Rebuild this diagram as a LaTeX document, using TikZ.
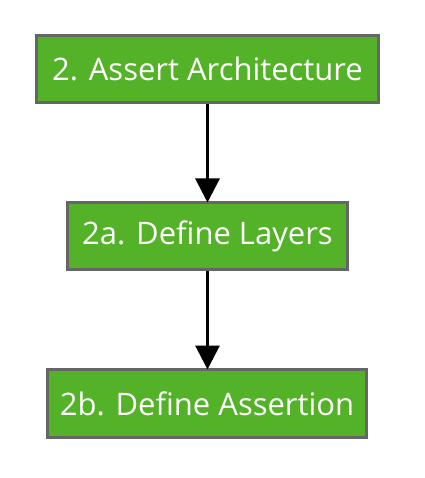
\documentclass[tikz,border=0pt]{standalone}
\usepackage{fontspec}
\setmainfont{Open Sans}
\usetikzlibrary{arrows.meta}
\definecolor{boxgreen}{HTML}{53B227}
\definecolor{boxgray}{HTML}{666666}
\begin{document}
\begin{tikzpicture}[x=1pt,y=-1pt,
  stepbox/.style={draw=boxgray, line width=3pt, fill=boxgreen, text=white,
    inner sep=0pt, font=\fontsize{31}{35}\selectfont},
  conn/.style={line width=3pt, -{Triangle[width=24pt,length=24pt]}, shorten >=-1.5pt}]
\useasboundingbox (0,0) rectangle (424,478);
\node[stepbox, minimum width=342pt, minimum height=67pt] (a) at (207.5,69) {2. Assert Architecture};
\node[stepbox, minimum width=280pt, minimum height=67pt] (b) at (207.5,236) {2a. Define Layers};
\node[stepbox, minimum width=319pt, minimum height=68pt] (c) at (207,403.5) {2b. Define Assertion};
\draw[conn] (a.south) -- (b.north);
\draw[conn] (b.south) -- (c.north -| b.south);
\end{tikzpicture}
\end{document}
